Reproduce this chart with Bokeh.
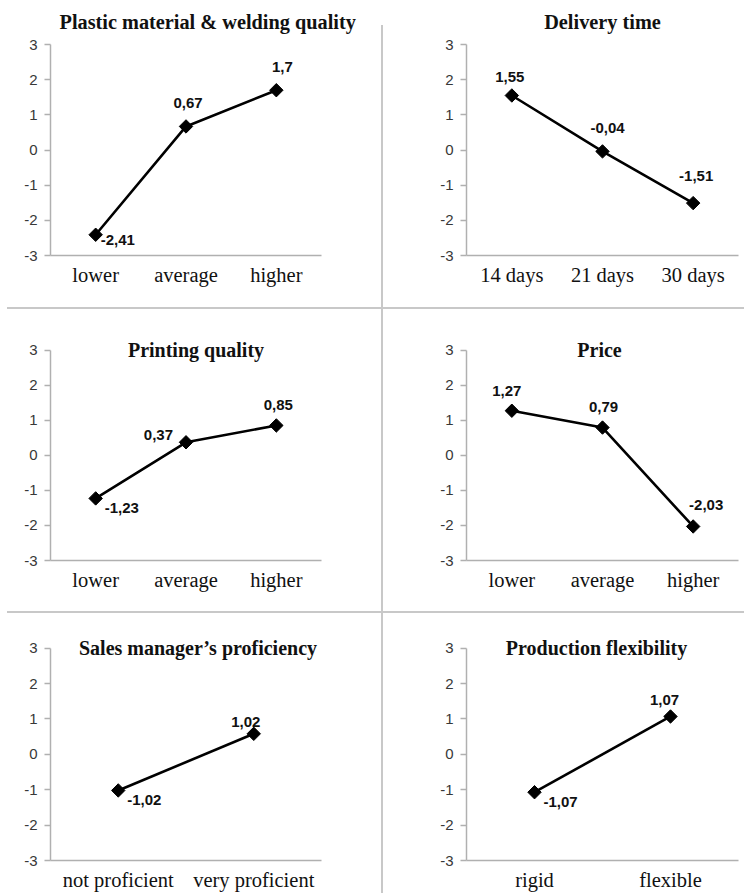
from bokeh.plotting import figure
from bokeh.models import FactorRange, Range1d, FixedTicker, ColumnDataSource, Label, Div, Spacer
from bokeh.layouts import row, column
from bokeh.core.properties import value
from bokeh.embed import file_html
from bokeh.resources import INLINE
import numpy as np

# ---------------- data ----------------
Y_TICKS = [-3, -2, -1, 0, 1, 2, 3]
Y_TICK_LABELS = ["-3", "-2", "-1", "0", "1", "2", "3"]

plastic_title = "Plastic material & welding quality"
plastic_cats = ["lower", "average", "higher"]
plastic_vals = [-2.41, 0.67, 1.70]
plastic_labels = ["-2,41", "0,67", "1,7"]

delivery_title = "Delivery time"
delivery_cats = ["14 days", "21 days", "30 days"]
delivery_vals = [1.55, -0.04, -1.51]
delivery_labels = ["1,55", "-0,04", "-1,51"]

printing_title = "Printing quality"
printing_cats = ["lower", "average", "higher"]
printing_vals = [-1.23, 0.37, 0.85]
printing_labels = ["-1,23", "0,37", "0,85"]

price_title = "Price"
price_cats = ["lower", "average", "higher"]
price_vals = [1.27, 0.79, -2.03]
price_labels = ["1,27", "0,79", "-2,03"]

sales_title = "Sales manager\u2019s proficiency"
sales_cats = ["not proficient", "very proficient"]
sales_vals = [-1.02, 0.58]   # second marker sits at ~0.6 in the source picture
sales_labels = ["-1,02", "1,02"]

flex_title = "Production flexibility"
flex_cats = ["rigid", "flexible"]
flex_vals = [-1.07, 1.07]
flex_labels = ["-1,07", "1,07"]

# ---------------- styles ----------------
AXIS_COLOR = "#b0b0b0"
SEP_COLOR = "#c8c8c8"
SERIF = "Liberation Serif"
SANS = "Liberation Sans"


def make_panel(cats, vals, labels, title, label_style, width, height,
               b_left, b_right, b_top, b_bottom, headroom, title_dx,
               plot_title=None):
    p = figure(x_range=FactorRange(*cats), y_range=Range1d(Y_TICKS[0], Y_TICKS[-1] + headroom),
               width=width, height=height, output_backend="svg", toolbar_location=None,
               min_border_left=b_left, min_border_right=b_right,
               min_border_top=b_top, min_border_bottom=b_bottom)
    p.outline_line_color = None
    p.grid.visible = False
    p.background_fill_color = "white"
    p.border_fill_color = "white"

    # y axis
    p.yaxis.ticker = FixedTicker(ticks=Y_TICKS)
    p.yaxis.bounds = (Y_TICKS[0], Y_TICKS[-1])
    p.yaxis.major_label_overrides = {t: s for t, s in zip(Y_TICKS, Y_TICK_LABELS)}
    p.yaxis.axis_line_color = AXIS_COLOR
    p.yaxis.axis_line_width = 1.5
    p.yaxis.major_tick_line_color = AXIS_COLOR
    p.yaxis.major_tick_line_width = 1.5
    p.yaxis.major_tick_out = 6
    p.yaxis.major_tick_in = 0
    p.yaxis.minor_tick_line_color = None
    p.yaxis.major_label_text_font = SANS
    p.yaxis.major_label_text_font_size = "15px"
    p.yaxis.major_label_text_color = "#383838"
    p.yaxis.major_label_standoff = 7

    # x axis
    p.xaxis.axis_line_color = AXIS_COLOR
    p.xaxis.axis_line_width = 1.5
    p.xaxis.major_tick_line_color = None
    p.xaxis.minor_tick_line_color = None
    p.xaxis.major_tick_out = 0
    p.xaxis.major_tick_in = 0
    p.xaxis.major_label_text_font = SERIF
    p.xaxis.major_label_text_font_size = "20.5px"
    p.xaxis.major_label_text_color = "#111111"
    p.xaxis.major_label_standoff = 8

    aligns, dxs, dys = zip(*label_style)
    src = ColumnDataSource(dict(x=cats, y=vals, t=labels, align=list(aligns),
                                dx=list(dxs), dy=list(dys)))
    p.line(x="x", y="y", source=src, line_color="black", line_width=2.6)
    p.scatter(x="x", y="y", source=src, marker="square", angle=np.pi / 4, size=9.5,
              fill_color="black", line_color="black", line_width=1)
    p.text(x="x", y="y", text="t", source=src, x_offset="dx", y_offset="dy",
           text_align="align", text_baseline="middle", text_font=value(SANS),
           text_font_style="bold", text_font_size="15px", text_color="#111111")

    if plot_title:
        # first-row titles sit above the frame: use the plot's own title
        p.title.text = title
        p.title.align = plot_title
        p.title.offset = title_dx
        p.title.vertical_align = "top"
        p.title.standoff = 20
        p.title.text_font = SERIF
        p.title.text_font_style = "bold"
        p.title.text_font_size = "20.3px"
        p.title.text_color = "#111111"
    else:
        p.add_layout(Label(x=len(cats) / 2, y=Y_TICKS[-1], text=title, x_offset=title_dx,
                           text_align="center", text_baseline="middle",
                           text_font=SERIF, text_font_style="bold",
                           text_font_size="20px", text_color="#111111"))
    return p


def vsep(h, top=0):
    d = Div(text="", width=2, height=h - top, margin=0,
            styles={"background-color": SEP_COLOR})
    if top:
        return column(Spacer(width=2, height=top, margin=0), d, spacing=0)
    return d


def hsep():
    return row(Spacer(width=7, height=2, margin=0),
               Div(text="", width=737, height=2, margin=0,
                   styles={"background-color": SEP_COLOR}), spacing=0)


LW, RW = 381, 361
H1, H2, H3 = 307, 302, 280
IN_ROOM = 0.5    # headroom (axis units) for titles written level with the top tick

f1 = make_panel(plastic_cats, plastic_vals, plastic_labels, plastic_title,
                [("left", 5, 5), ("center", 2, -23), ("center", 6, -23)],
                LW, H1, 50, 60, 42, 52, 0, 9, plot_title="left")
f2 = make_panel(delivery_cats, delivery_vals, delivery_labels, delivery_title,
                [("center", -2, -18), ("center", 5, -23), ("center", 3, -27)],
                RW, H1, 83, 6, 42, 52, 0, 0, plot_title="center")
f3 = make_panel(printing_cats, printing_vals, printing_labels, printing_title,
                [("left", 9, 10), ("right", -13, -7), ("center", 2, -20)],
                LW, H2, 50, 60, 20, 51, IN_ROOM, 10)
f4 = make_panel(price_cats, price_vals, price_labels, price_title,
                [("center", -5, -20), ("center", 1, -21), ("center", 13, -21)],
                RW, H2, 83, 6, 23, 48, IN_ROOM, -3)
f5 = make_panel(sales_cats, sales_vals, sales_labels, sales_title,
                [("left", 9, 10), ("center", -8, -12)],
                LW, H3, 50, 60, 17, 32, IN_ROOM, 12)
f6 = make_panel(flex_cats, flex_vals, flex_labels, flex_title,
                [("left", 9, 10), ("center", -6, -16)],
                RW, H3, 83, 6, 17, 32, IN_ROOM, -6)

layout = column(
    row(f1, vsep(H1, 25), f2, spacing=0),
    hsep(),
    row(f3, vsep(H2), f4, spacing=0),
    hsep(),
    row(f5, vsep(H3), f6, spacing=0),
    spacing=0,
)

open("out.html", "w").write(file_html(layout, INLINE))
